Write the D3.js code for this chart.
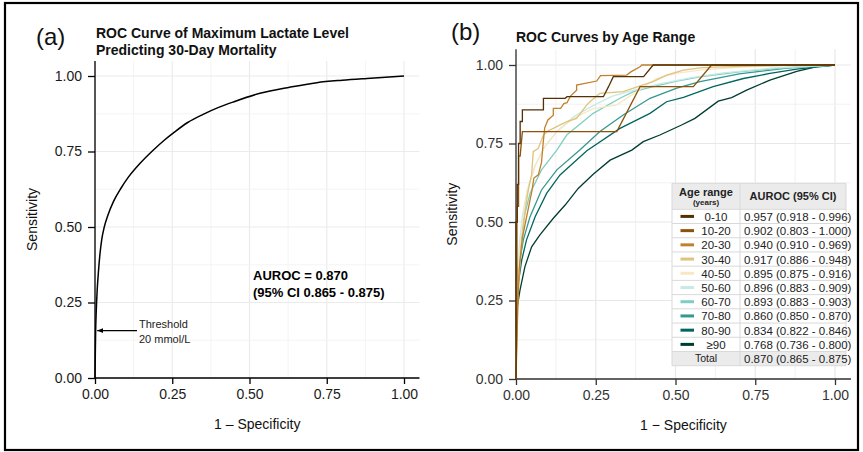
<!DOCTYPE html>
<html><head><meta charset="utf-8">
<script src="https://cdn.jsdelivr.net/npm/d3@7"></script>
<style>body{margin:0;background:#fff;font-family:"Liberation Sans",Arial,sans-serif;}svg{display:block}</style>
</head><body><svg id="c" width="863" height="452"></svg>
<script>
// ---------- data ----------
const ticks = [0, 0.25, 0.5, 0.75, 1];
const tickLabels = ["0.00","0.25","0.50","0.75","1.00"];
const overallROC = [[0,0],[0.001,0.08],[0.002,0.15],[0.004,0.22],[0.007,0.29],[0.011,0.35],[0.016,0.41],[0.022,0.46],[0.03,0.5],[0.042,0.54],[0.06,0.585],[0.085,0.63],[0.108,0.665],[0.146,0.711],[0.189,0.755],[0.225,0.788],[0.258,0.815],[0.3,0.846],[0.35,0.873],[0.4,0.896],[0.45,0.915],[0.534,0.943],[0.63,0.963],[0.718,0.978],[0.8,0.986],[0.88,0.992],[1,1]];
const ageRanges = ["0-10","10-20","20-30","30-40","40-50","50-60","60-70","70-80","80-90","≥90"];
const ageColors = ["#543005","#8c510a","#bf812d","#dfc27d","#f6e8c3","#c7eae5","#80cdc1","#35978f","#01665e","#003c30"];
const aurocText = ["0.957 (0.918 - 0.996)","0.902 (0.803 - 1.000)","0.940 (0.910 - 0.969)","0.917 (0.886 - 0.948)","0.895 (0.875 - 0.916)","0.896 (0.883 - 0.909)","0.893 (0.883 - 0.903)","0.860 (0.850 - 0.870)","0.834 (0.822 - 0.846)","0.768 (0.736 - 0.800)"];
const totalText = "0.870 (0.865 - 0.875)";
const roc0_10 = [[0,0],[0,0.5],[0.004,0.5],[0.004,0.62],[0.008,0.62],[0.008,0.75],[0.013,0.75],[0.013,0.82],[0.02,0.82],[0.02,0.857],[0.086,0.857],[0.086,0.894],[0.154,0.894],[0.16,0.899],[0.274,0.899],[0.29,0.931],[0.305,0.963],[0.40,0.963],[0.43,1],[1,1]];
const roc10_20 = [[0,0],[0.003,0.3],[0.003,0.55],[0.008,0.55],[0.008,0.71],[0.013,0.71],[0.02,0.788],[0.316,0.788],[0.389,0.931],[0.556,0.931],[0.613,1],[1,1]];
const roc20_30 = [[0,0],[0.005,0.2],[0.01,0.35],[0.02,0.45],[0.03,0.5],[0.04,0.55],[0.05,0.6],[0.056,0.64],[0.07,0.65],[0.08,0.69],[0.085,0.75],[0.09,0.8],[0.1,0.825],[0.117,0.84],[0.117,0.862],[0.14,0.862],[0.15,0.877],[0.16,0.88],[0.17,0.9],[0.19,0.92],[0.19,0.936],[0.253,0.949],[0.265,0.966],[0.347,0.968],[0.36,0.978],[0.39,0.995],[0.394,1],[1,1]];
const roc30_40 = [[0,0],[0.003,0.2],[0.008,0.3],[0.015,0.4],[0.022,0.47],[0.028,0.53],[0.035,0.58],[0.042,0.62],[0.049,0.65],[0.054,0.724],[0.07,0.735],[0.086,0.777],[0.1,0.79],[0.12,0.8],[0.14,0.81],[0.16,0.82],[0.19,0.83],[0.222,0.873],[0.232,0.883],[0.263,0.91],[0.336,0.915],[0.38,0.93],[0.43,0.947],[0.472,0.968],[0.525,0.984],[0.577,0.991],[0.62,0.993],[0.87,1],[1,1]];
const roc40_50 = [[0,0],[0.003,0.25],[0.01,0.4],[0.02,0.5],[0.035,0.6],[0.06,0.68],[0.09,0.74],[0.13,0.79],[0.18,0.83],[0.24,0.86],[0.316,0.873],[0.378,0.915],[0.44,0.957],[0.5,0.973],[0.577,0.984],[0.7,0.993],[0.85,0.998],[1,1]];
const roc50_60 = [[0,0],[0.003,0.28],[0.01,0.42],[0.02,0.52],[0.035,0.6],[0.06,0.68],[0.09,0.74],[0.13,0.79],[0.18,0.835],[0.24,0.87],[0.3,0.9],[0.37,0.92],[0.45,0.94],[0.55,0.96],[0.65,0.975],[0.8,0.99],[1,1]];
const roc60_70 = [[0,0],[0.003,0.3],[0.0125,0.421],[0.023,0.506],[0.044,0.591],[0.08,0.666],[0.128,0.729],[0.159,0.777],[0.242,0.846],[0.326,0.894],[0.368,0.915],[0.43,0.931],[0.504,0.949],[0.577,0.962],[0.7,0.978],[0.85,0.992],[1,1]];
const roc70_80 = [[0,0],[0.002,0.25],[0.007,0.347],[0.023,0.443],[0.044,0.517],[0.08,0.602],[0.128,0.666],[0.2,0.729],[0.263,0.788],[0.336,0.841],[0.42,0.894],[0.504,0.926],[0.577,0.947],[0.7,0.972],[0.85,0.99],[1,1]];
const roc80_90 = [[0,0],[0.004,0.283],[0.018,0.379],[0.033,0.443],[0.06,0.517],[0.096,0.591],[0.138,0.65],[0.222,0.727],[0.326,0.798],[0.42,0.846],[0.472,0.883],[0.525,0.897],[0.618,0.931],[0.713,0.957],[0.796,0.973],[0.88,0.987],[1,1]];
const roc90 = [[0,0],[0,0.135],[0.004,0.23],[0.0125,0.283],[0.028,0.358],[0.049,0.421],[0.075,0.459],[0.117,0.512],[0.154,0.554],[0.195,0.607],[0.242,0.652],[0.295,0.697],[0.363,0.729],[0.399,0.756],[0.451,0.777],[0.519,0.809],[0.561,0.83],[0.634,0.885],[0.676,0.896],[0.723,0.92],[0.796,0.952],[0.88,0.98],[0.943,0.995],[1,1]];
const ageROC = [roc0_10,roc10_20,roc20_30,roc30_40,roc40_50,roc50_60,roc60_70,roc70_80,roc80_90,roc90];
const thresholdY = 0.157;

// ---------- drawing ----------
const svg = d3.select("#c");
const font = '"Liberation Sans",Arial,sans-serif';
svg.append("rect").attr("x",5).attr("y",3).attr("width",853).attr("height",447).attr("fill","#fff").attr("stroke","#000").attr("stroke-width",2.2);

function panel(o){
  const x = d3.scaleLinear().domain([0,1.05]).range([o.left, o.left + 1.05*o.wUnit]);
  const y = d3.scaleLinear().domain([0,1.05]).range([o.bottom, o.bottom - 1.05*o.hUnit]);
  const g = svg.append("g");
  const grid = d3.range(0,1.001,0.125);
  g.selectAll(".gv").data(grid).join("line").attr("x1",d=>x(d)).attr("x2",d=>x(d)).attr("y1",y(0)).attr("y2",y(1.05))
    .attr("stroke", (d,i)=> i%2? o.minor : o.major).attr("stroke-width", (d,i)=> i%2? 0.9:1.2);
  g.selectAll(".gh").data(grid).join("line").attr("y1",d=>y(d)).attr("y2",d=>y(d)).attr("x1",x(0)).attr("x2",x(1.05))
    .attr("stroke", (d,i)=> i%2? o.minor : o.major).attr("stroke-width", (d,i)=> i%2? 0.9:1.2);
  const ax = g.append("g").attr("transform",`translate(0,${y(0)})`)
    .call(d3.axisBottom(x).tickValues(ticks).tickFormat((d,i)=>tickLabels[i]).tickSizeOuter(0).tickSize(6).tickPadding(5));
  const ay = g.append("g").attr("transform",`translate(${x(0)},0)`)
    .call(d3.axisLeft(y).tickValues(ticks).tickFormat((d,i)=>tickLabels[i]).tickSizeOuter(0).tickSize(7).tickPadding(6));
  [ax,ay].forEach(a=>{
    a.select(".domain").attr("stroke",o.axis).attr("stroke-width",1.3);
    a.selectAll(".tick line").attr("stroke",o.axis).attr("stroke-width",1.3);
    a.selectAll("text").attr("fill",o.text).attr("font-size",14).attr("font-family",font);
  });
  ax.select(".domain").attr("d",`M${x(0)},0H${x(1.05)}`);
  ay.select(".domain").attr("d",`M0,${y(0)}V${y(1.05)}`);
  g.append("text").attr("x",(x(0)+x(1.05))/2).attr("y",o.bottom+51).attr("text-anchor","middle")
    .attr("font-size",14).attr("font-family",font).attr("fill","#111").text(o.xlab);
  g.append("text").attr("transform",`translate(${o.ylabX},${(y(0)+y(1.05))/2}) rotate(-90)`).attr("text-anchor","middle")
    .attr("font-size",14).attr("font-family",font).attr("fill","#111").text("Sensitivity");
  return {x,y,g};
}

// Panel (a)
const A = panel({left:95,wUnit:309,bottom:378,hUnit:302,major:"#ebebeb",minor:"#f3f3f3",axis:"#000",text:"#1a1a1a",xlab:"1 – Specificity",ylabX:37});
const lineA = d3.line().x(d=>A.x(d[0])).y(d=>A.y(d[1])).curve(d3.curveMonotoneX);
A.g.append("path").attr("d",lineA(overallROC)).attr("fill","none").attr("stroke","#000").attr("stroke-width",1.5);
svg.append("text").attr("x",36).attr("y",45).attr("font-size",24).attr("font-family",font).attr("fill","#111").text("(a)");
svg.append("text").attr("x",96).attr("y",38).attr("font-size",14).attr("font-weight","bold").attr("font-family",font).attr("fill","#111").text("ROC Curve of Maximum Lactate Level");
svg.append("text").attr("x",96).attr("y",55).attr("font-size",14).attr("font-weight","bold").attr("font-family",font).attr("fill","#111").text("Predicting 30-Day Mortality");
svg.append("text").attr("x",253).attr("y",280).attr("font-size",13).attr("font-weight","bold").attr("font-family",font).attr("fill","#000").text("AUROC = 0.870");
svg.append("text").attr("x",253).attr("y",297).attr("font-size",13).attr("font-weight","bold").attr("font-family",font).attr("fill","#000").text("(95% CI 0.865 - 0.875)");
// threshold arrow
svg.append("defs").append("marker").attr("id","arr").attr("viewBox","0 0 10 10").attr("refX",10).attr("refY",5)
  .attr("markerWidth",6).attr("markerHeight",6).attr("markerUnits","userSpaceOnUse").attr("orient","auto")
  .append("path").attr("d","M0,1 L10,5 L0,9 Z").attr("fill","#000");
svg.append("line").attr("x1",137).attr("x2",A.x(0.007)).attr("y1",A.y(thresholdY)).attr("y2",A.y(thresholdY))
  .attr("stroke","#000").attr("stroke-width",1.1).attr("marker-end","url(#arr)");
svg.append("text").attr("x",139).attr("y",328).attr("font-size",11).attr("font-family",font).attr("fill","#222").text("Threshold");
svg.append("text").attr("x",139).attr("y",343).attr("font-size",11).attr("font-family",font).attr("fill","#222").text("20 mmol/L");

// Panel (b)
const B = panel({left:516,wUnit:319,bottom:379,hUnit:314,major:"#e8e8e8",minor:"#efefef",axis:"#333",text:"#333",xlab:"1 − Specificity",ylabX:457});
const lineB = d3.line().x(d=>B.x(d[0])).y(d=>B.y(d[1]));
const drawOrder = [9,8,7,6,5,4,3,2,1,0];
drawOrder.forEach(i=>{
  B.g.append("path").attr("d",lineB(ageROC[i])).attr("fill","none").attr("stroke",ageColors[i]).attr("stroke-width",1.3);
});
svg.append("text").attr("x",451).attr("y",40).attr("font-size",24).attr("font-family",font).attr("fill","#111").text("(b)");
svg.append("text").attr("x",516).attr("y",42).attr("font-size",14).attr("font-weight","bold").attr("font-family",font).attr("fill","#111").text("ROC Curves by Age Range");

// Legend table
const tX0 = 672, tX1 = 740, tX2 = 846, tTop = 183.3, hdrH = 26, rowH = 14.22;
const tg = svg.append("g");
const nRows = ageRanges.length + 1;
const tBottom = tTop + hdrH + nRows*rowH;
tg.append("rect").attr("x",tX0).attr("y",tTop).attr("width",tX2-tX0).attr("height",tBottom-tTop).attr("fill","#fff");
tg.append("rect").attr("x",tX0).attr("y",tTop).attr("width",tX2-tX0).attr("height",hdrH).attr("fill","#ebebeb");
tg.append("rect").attr("x",tX0).attr("y",tTop+hdrH+ageRanges.length*rowH).attr("width",tX2-tX0).attr("height",rowH).attr("fill","#ebebeb");
const rowYs = d3.range(nRows+1).map(i=>tTop+hdrH+i*rowH);
tg.selectAll(".hl").data([tTop].concat(rowYs)).join("line").attr("x1",tX0).attr("x2",tX2).attr("y1",d=>d).attr("y2",d=>d).attr("stroke","#d9d9d9").attr("stroke-width",1);
tg.selectAll(".vl").data([tX0,tX1,tX2]).join("line").attr("x1",d=>d).attr("x2",d=>d).attr("y1",tTop).attr("y2",tBottom).attr("stroke","#d9d9d9").attr("stroke-width",1);
tg.append("text").attr("x",(tX0+tX1)/2).attr("y",tTop+13).attr("text-anchor","middle").attr("font-size",11).attr("font-weight","bold").attr("font-family",font).attr("fill","#222").text("Age range");
tg.append("text").attr("x",(tX0+tX1)/2).attr("y",tTop+22).attr("text-anchor","middle").attr("font-size",8).attr("font-weight","bold").attr("font-family",font).attr("fill","#222").text("(years)");
tg.append("text").attr("x",(tX1+tX2)/2).attr("y",tTop+17).attr("text-anchor","middle").attr("font-size",11).attr("font-weight","bold").attr("font-family",font).attr("fill","#222").text("AUROC (95% CI)");
ageRanges.forEach((a,i)=>{
  const cy = tTop+hdrH+(i+0.5)*rowH;
  tg.append("line").attr("x1",680.5).attr("x2",694).attr("y1",cy).attr("y2",cy).attr("stroke",ageColors[i]).attr("stroke-width",3);
  tg.append("text").attr("x",716).attr("y",cy+4.5).attr("text-anchor","middle").attr("font-size",11.5).attr("font-family",font).attr("fill","#222").text(a);
  tg.append("text").attr("x",744).attr("y",cy+4.5).attr("font-size",11.5).attr("font-family",font).attr("fill","#222").text(aurocText[i]);
});
const cyT = tTop+hdrH+(ageRanges.length+0.5)*rowH;
tg.append("text").attr("x",(tX0+tX1)/2).attr("y",cyT+3.5).attr("text-anchor","middle").attr("font-size",10.5).attr("font-family",font).attr("fill","#222").text("Total");
tg.append("text").attr("x",744).attr("y",cyT+4.5).attr("font-size",11.5).attr("font-family",font).attr("fill","#222").text(totalText);
</script></body></html>
